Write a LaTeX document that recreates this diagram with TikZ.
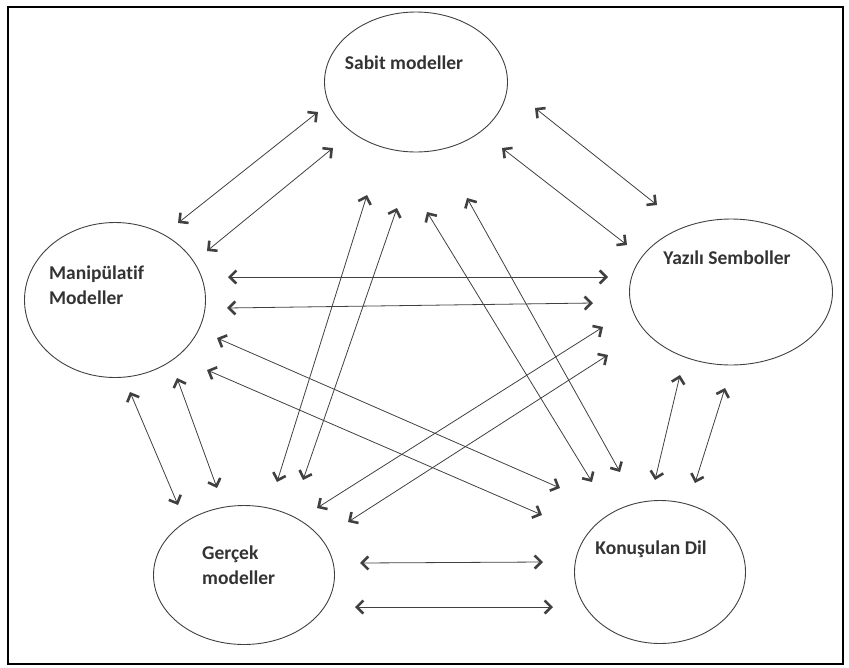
\documentclass[tikz,border=0pt]{standalone}
\usepackage{fontspec}
\setmainfont{Carlito}[Ligatures=CommonOff]
\usetikzlibrary{shapes.geometric, arrows.meta, positioning}

\begin{document}
\begin{tikzpicture}[
        x=1pt, y=-1pt,
        oval/.style={ellipse, draw=black!75, line width=0.9pt, inner sep=0pt},
        lbl/.style={font=\bfseries\fontsize{19.5}{25}\selectfont, text=black!80, align=left, inner sep=0pt},
        arrow/.style={{Straight Barb[length=6.5pt,width=13pt,line width=2.6pt]}-{Straight Barb[length=6.5pt,width=13pt,line width=2.6pt]}, line width=0.8pt, draw=black!75}
    ]
        \useasboundingbox (0,0) rectangle (849,667);
        \draw[line width=1.5pt] (8,7) rectangle (843,664);

        % Ellipses
        \node[oval, minimum width=183pt, minimum height=140pt] (sabit) at (416,82) {};
        \node[oval, minimum width=181pt, minimum height=155pt] (manip) at (115,300) {};
        \node[oval, minimum width=203pt, minimum height=146pt] (yazili) at (731,292) {};
        \node[oval, minimum width=181pt, minimum height=139pt] (gercek) at (244,575) {};
        \node[oval, minimum width=171pt, minimum height=143pt] (konus) at (660,572) {};

        % Labels
        \node[lbl] (sabittxt) at (404,63) {Sabit modeller};
        \node[lbl, anchor=west] (maniptxt) at (49,285) {Manipülatif\\Modeller};
        \node[lbl] (yazilitxt) at (727,258) {Yazılı Semboller};
        \node[lbl, anchor=west] (gercektxt) at (202,565) {Gerçek\\modeller};
        \node[lbl] (konustxt) at (651,549) {Konuşulan Dil};

        % Arrow ends
        % Sabit - Manipulatif
        \coordinate (sm1s) at (318,112); \coordinate (sm1e) at (178,223);
        \coordinate (sm2s) at (333,148); \coordinate (sm2e) at (207,251);
        % Sabit - Yazili
        \coordinate (sy1s) at (535,108); \coordinate (sy1e) at (657,205);
        \coordinate (sy2s) at (502,148); \coordinate (sy2e) at (627,245);
        % Manipulatif - Yazili
        \coordinate (my1s) at (228,277); \coordinate (my1e) at (608,277);
        \coordinate (my2s) at (227,308); \coordinate (my2e) at (593,303);
        % Manipulatif - Konusulan
        \coordinate (mk1s) at (217,338); \coordinate (mk1e) at (560,488);
        \coordinate (mk2s) at (207,370); \coordinate (mk2e) at (542,515);
        % Manipulatif - Gercek
        \coordinate (mg1s) at (130,392); \coordinate (mg1e) at (178,505);
        \coordinate (mg2s) at (177,378); \coordinate (mg2e) at (217,488);
        % Sabit - Gercek
        \coordinate (sg1s) at (367,195); \coordinate (sg1e) at (277,482);
        \coordinate (sg2s) at (397,208); \coordinate (sg2e) at (303,480);
        % Sabit - Konusulan
        \coordinate (sk1s) at (427,212); \coordinate (sk1e) at (592,482);
        \coordinate (sk2s) at (467,198); \coordinate (sk2e) at (620,472);
        % Yazili - Gercek
        \coordinate (yg1s) at (603,327); \coordinate (yg1e) at (317,508);
        \coordinate (yg2s) at (608,355); \coordinate (yg2e) at (348,522);
        % Yazili - Konusulan
        \coordinate (yk1s) at (680,375); \coordinate (yk1e) at (655,480);
        \coordinate (yk2s) at (725,388); \coordinate (yk2e) at (695,483);
        % Gercek - Konusulan
        \coordinate (gk1s) at (360,563); \coordinate (gk1e) at (543,562);
        \coordinate (gk2s) at (355,607); \coordinate (gk2e) at (553,607);

        % Connections
        \draw[arrow] (sm1s) -- (sm1e);
        \draw[arrow] (sm2s) -- (sm2e);
        \draw[arrow] (sy1s) -- (sy1e);
        \draw[arrow] (sy2s) -- (sy2e);
        \draw[arrow] (my1s) -- (my1e);
        \draw[arrow] (my2s) -- (my2e);
        \draw[arrow] (mk1s) -- (mk1e);
        \draw[arrow] (mk2s) -- (mk2e);
        \draw[arrow] (mg1s) -- (mg1e);
        \draw[arrow] (mg2s) -- (mg2e);
        \draw[arrow] (sg1s) -- (sg1e);
        \draw[arrow] (sg2s) -- (sg2e);
        \draw[arrow] (sk1s) -- (sk1e);
        \draw[arrow] (sk2s) -- (sk2e);
        \draw[arrow] (yg1s) -- (yg1e);
        \draw[arrow] (yg2s) -- (yg2e);
        \draw[arrow] (yk1s) -- (yk1e);
        \draw[arrow] (yk2s) -- (yk2e);
        \draw[arrow] (gk1s) -- (gk1e);
        \draw[arrow] (gk2s) -- (gk2e);

    \end{tikzpicture}
\end{document}
